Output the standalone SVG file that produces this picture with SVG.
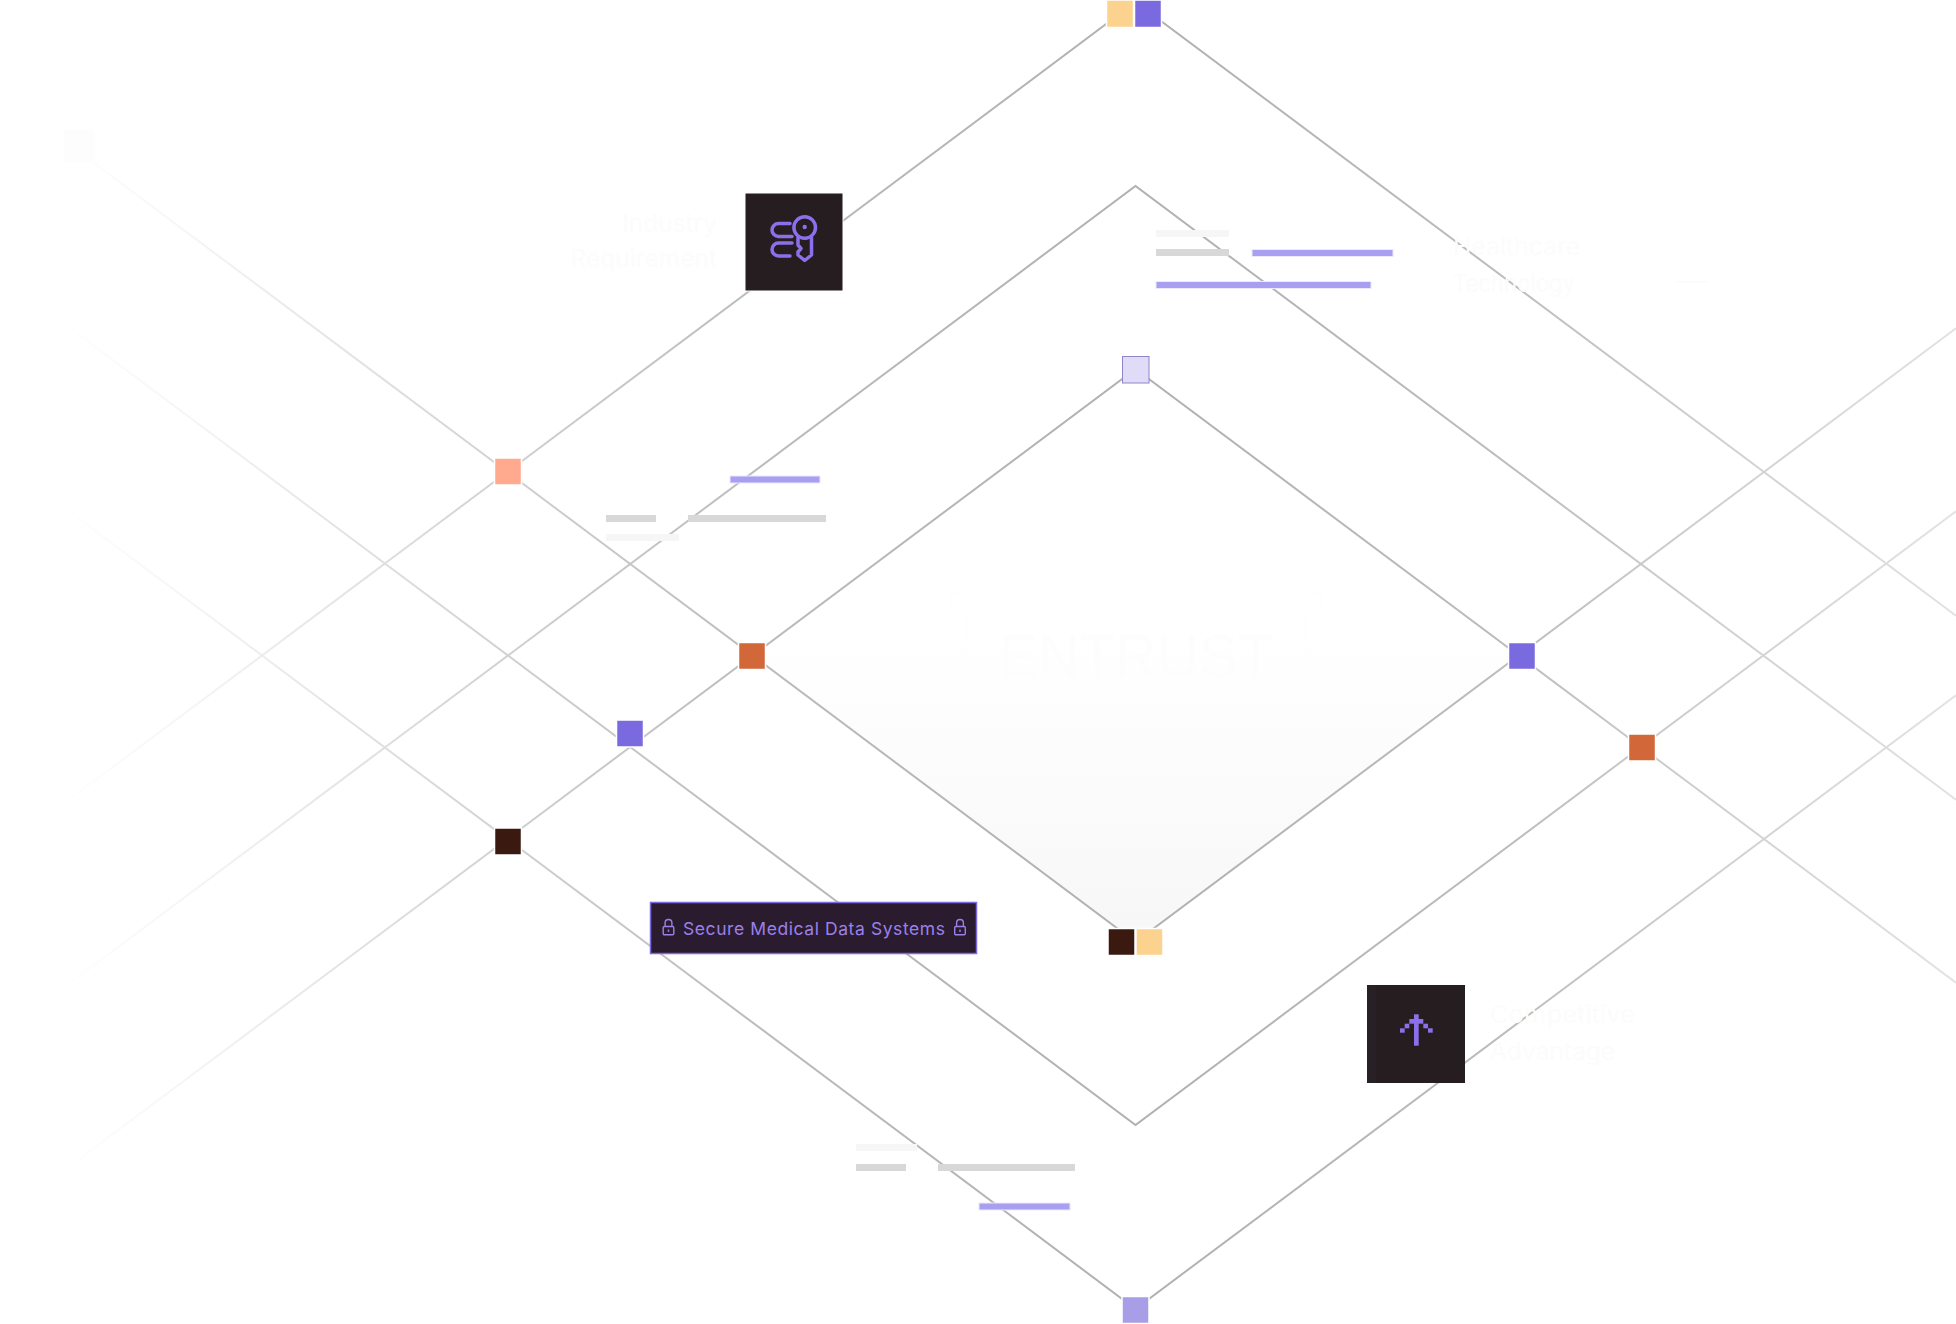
<svg xmlns="http://www.w3.org/2000/svg" width="1956" height="1324" viewBox="0 0 1956 1324">
<style>
.ln{fill:none;stroke:url(#fade);stroke-width:2}
.n{stroke:#fff;stroke-width:1.5}
.fa{font-family:"Inter","Liberation Sans",sans-serif;font-size:24.500px;fill:#fcfcfc}
.ic{fill:none;stroke:#8a70ea;stroke-width:3.500;stroke-linecap:round;stroke-linejoin:round}
.px{fill:#8a70ea}
.bar-p{fill:#a89ff0;stroke:#ece9fd;stroke-width:1}
.bar-g{fill:#d9d8d8}
.bar-l{fill:#f6f6f6}
.lk{fill:none;stroke:#9b80ea;stroke-width:1.400}
</style>
<defs>
<linearGradient id="fade" gradientUnits="userSpaceOnUse" x1="60" y1="0" x2="1956" y2="0">
<stop offset="0" stop-color="#ffffff"/>
<stop offset="0.07" stop-color="#f5f5f5"/>
<stop offset="0.24" stop-color="#d0d0d0"/>
<stop offset="0.37" stop-color="#bbbbbb"/>
<stop offset="0.57" stop-color="#b0b0b0"/>
<stop offset="0.77" stop-color="#bdbdbd"/>
<stop offset="0.87" stop-color="#d0d0d0"/>
<stop offset="1" stop-color="#e2e2e2"/>
</linearGradient>
<linearGradient id="core" gradientUnits="userSpaceOnUse" x1="0" y1="640" x2="0" y2="942">
<stop offset="0" stop-color="#ffffff"/>
<stop offset="1" stop-color="#f7f7f7"/>
</linearGradient>
<g id="lock">
<rect x="0.700" y="6.500" width="10.600" height="8.300" rx="1.200" class="lk"/>
<path d="M2.600 6.500V2.900a3.400 3.400 0 0 1 6.800 0V6.500" class="lk"/>
<path d="M6 9.500v2.400" class="lk"/>
</g>
</defs>

<polygon id="core-fill" points="1135.500,369 1521,655.500 1135.500,942 751,655.500" fill="url(#core)"/>

<g id="faint-emblem" fill="none" stroke="#fefdfe" stroke-width="1">
<rect x="966" y="608" width="340" height="95"/>
<rect x="951" y="593" width="15" height="15"/>
<rect x="1306" y="593" width="15" height="15"/>
<rect x="951" y="703" width="15" height="15"/>
<rect x="1306" y="703" width="15" height="15"/>
</g>
<text id="faint-center" x="999" y="677" font-family="Liberation Sans, sans-serif" font-size="62" fill="#fefdfe" textLength="274" lengthAdjust="spacingAndGlyphs">ENTRUST</text>

<g id="connectors">
<path class="ln" d="M60 806.500L1135.500 2L1956 615.700"/>
<path class="ln" d="M60 990.500L1135.500 186L1956 799.700"/>
<path class="ln" d="M60 1173.500L1135.500 369L1956 982.700"/>
<path class="ln" d="M60 137.500L1135.500 942L1956 328.300"/>
<path class="ln" d="M60 320.500L1135.500 1125L1956 511.300"/>
<path class="ln" d="M60 504.500L1135.500 1309L1956 695.300"/>
</g>

<g id="bars-top-right">
<rect class="bar-l" x="1156" y="230" width="73" height="7"/>
<rect class="bar-g" x="1156" y="249" width="73" height="7"/>
<rect class="bar-p" x="1252" y="249.500" width="141" height="7"/>
<rect class="bar-p" x="1156" y="281.500" width="215" height="7"/>
</g>
<g id="bars-left">
<rect class="bar-p" x="730" y="476" width="90" height="7"/>
<rect class="bar-g" x="606" y="515" width="50" height="7"/>
<rect class="bar-g" x="688" y="515" width="138" height="7"/>
<rect class="bar-l" x="606" y="534" width="73" height="7"/>
</g>
<g id="bars-bottom">
<rect class="bar-l" x="856" y="1144" width="61" height="7"/>
<rect class="bar-g" x="856" y="1164" width="50" height="7"/>
<rect class="bar-g" x="938" y="1164" width="137" height="7"/>
<rect class="bar-p" x="979" y="1203" width="91" height="7"/>
</g>

<g id="node-top-yellow"><rect class="n" x="1106.500" y="0" width="27" height="27.500" fill="#fcd28f"/></g>
<g id="node-top-purple"><rect class="n" x="1134.500" y="0" width="27" height="27.500" fill="#7a6ae0"/></g>
<g id="node-peach"><rect class="n" x="494.500" y="458" width="27" height="27" fill="#ffa98f"/></g>
<g id="node-orange-left"><rect class="n" x="738.500" y="642.500" width="27" height="27" fill="#d2673a"/></g>
<g id="node-purple-left"><rect class="n" x="616.500" y="720" width="27" height="27" fill="#7a6ae0"/></g>
<g id="node-dark-left"><rect class="n" x="494.500" y="828" width="27" height="27" fill="#3a1a10"/></g>
<g id="node-lilac-top"><rect x="1122.500" y="356.500" width="26.500" height="26.500" fill="#e0dcf7" stroke="#8f86c9" stroke-width="1"/></g>
<g id="node-purple-right"><rect class="n" x="1508.500" y="642.500" width="27" height="27" fill="#7a6ae0"/></g>
<g id="node-orange-right"><rect class="n" x="1628.500" y="734" width="27" height="27" fill="#d2673a"/></g>
<g id="node-bottom-dark"><rect class="n" x="1108" y="928.500" width="27" height="27" fill="#3a1a10"/></g>
<g id="node-bottom-yellow"><rect class="n" x="1136" y="928.500" width="27" height="27" fill="#fcd28f"/></g>
<g id="node-lilac-bottom"><rect class="n" x="1122" y="1296.500" width="27" height="27" fill="#a89ee8"/></g>

<g id="node-key">
<rect x="745" y="193" width="98" height="98" fill="#251d1f" stroke="#fff" stroke-width="1"/>
<path class="ic" d="M790 223.500H778.500a6.500 6.500 0 0 0 0 13H792"/>
<path class="ic" d="M790 256H778.500a6.500 6.500 0 0 1 0 -13H792"/>
<circle class="ic" cx="804.700" cy="227.500" r="10.800"/>
<path class="ic" d="M798 237.500V245L801 248.500L798 252V255L804.700 260.500L811.500 255V237.500"/>
<circle cx="804.700" cy="227" r="2.200" fill="#8a70ea"/>
</g>

<g id="node-arrow">
<rect x="1367" y="985" width="98" height="98" fill="#251d1f"/>
<rect x="1367" y="985" width="9" height="98" fill="#272024"/>
<rect class="px" x="1414" y="1014.300" width="4.700" height="31.400"/>
<rect class="px" x="1409.300" y="1019" width="14" height="4.700"/>
<rect class="px" x="1404.700" y="1023.700" width="4.600" height="4.600"/>
<rect class="px" x="1423.300" y="1023.700" width="4.700" height="4.600"/>
<rect class="px" x="1400" y="1028.300" width="4.700" height="4.400"/>
<rect class="px" x="1428" y="1028.300" width="4.700" height="4.400"/>
</g>

<g id="node-label">
<rect x="650.500" y="902.500" width="326" height="51" fill="#2a1c2e" stroke="#7a6ae0" stroke-width="1.500"/>
<use href="#lock" x="662.500" y="920"/>
<text x="683" y="934.500" font-family="Inter, Liberation Sans, sans-serif" font-size="17.500" fill="#9b80ea" textLength="262" lengthAdjust="spacing">Secure Medical Data Systems</text>
<use href="#lock" x="954" y="920"/>
</g>

<g id="faint-labels">
<text class="fa" x="717" y="232" text-anchor="end">Industry</text>
<text class="fa" x="717" y="267" text-anchor="end">Requirement</text>
<text class="fa" x="1453" y="255" textLength="127" lengthAdjust="spacingAndGlyphs">Healthcare</text>
<text class="fa" x="1453" y="292" textLength="122" lengthAdjust="spacingAndGlyphs">Technology</text>
<text class="fa" x="1490" y="1023" textLength="145" lengthAdjust="spacingAndGlyphs">Competitive</text>
<text class="fa" x="1490" y="1060" textLength="125" lengthAdjust="spacingAndGlyphs">Advantage</text>
<rect x="64" y="129" width="31" height="33" fill="#fdfdfd"/>
<rect x="1677" y="281" width="30" height="1.500" fill="#fafafa"/>
</g>
</svg>
